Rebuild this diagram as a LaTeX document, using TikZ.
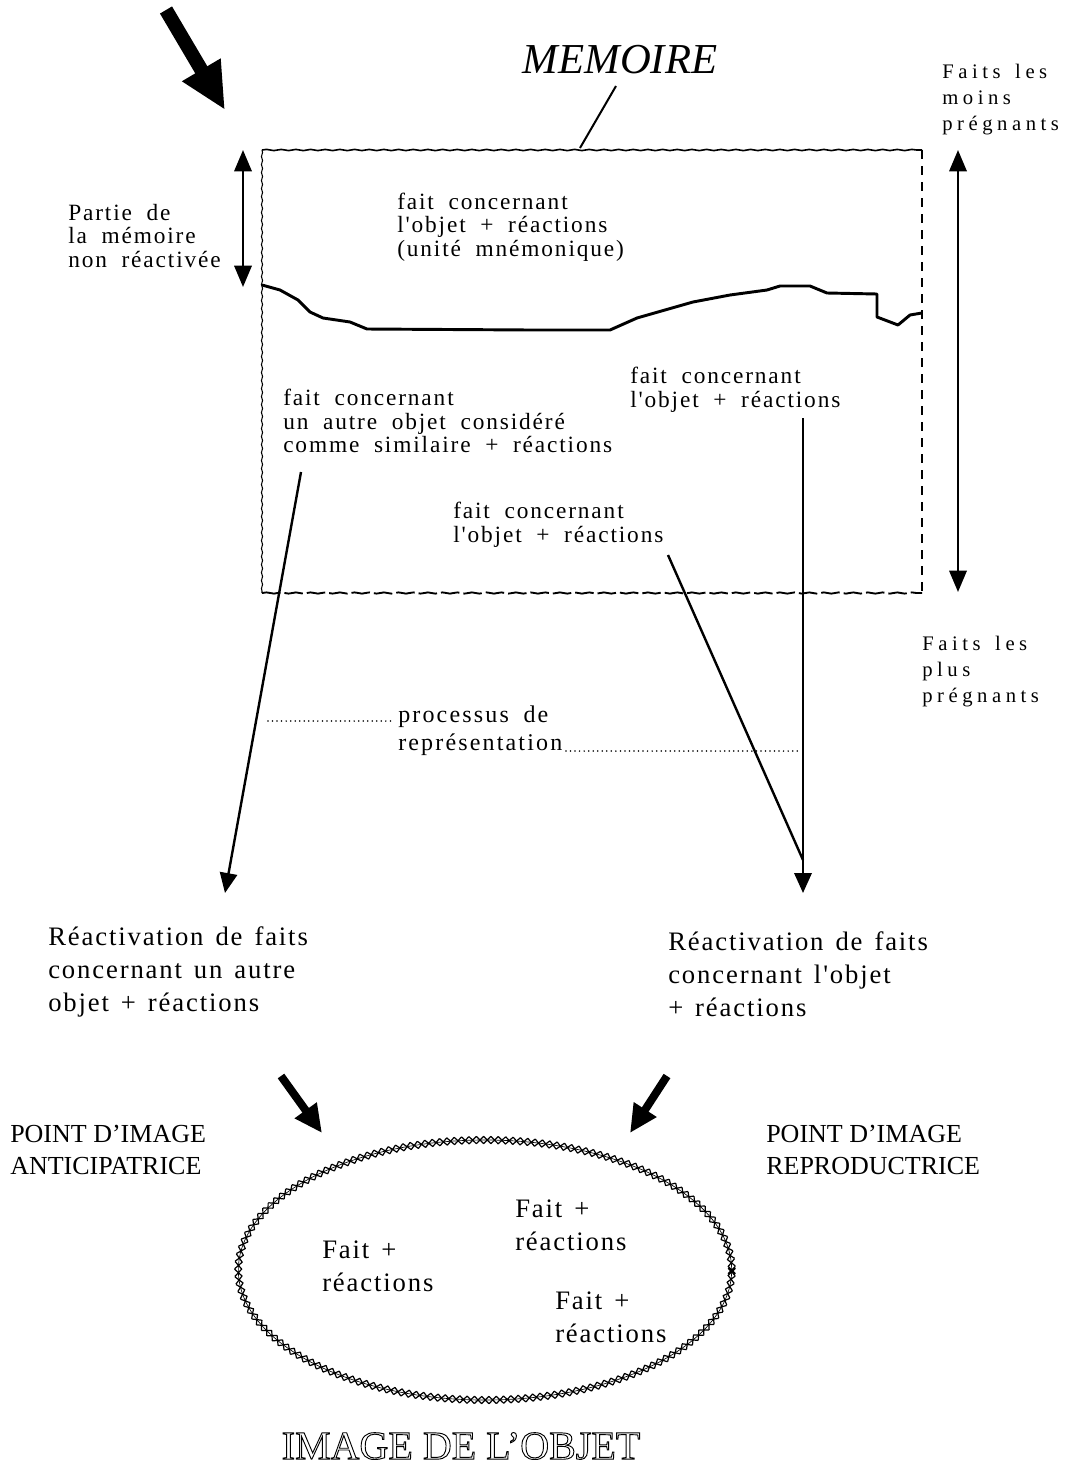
\documentclass[tikz,border=0pt]{standalone}
\usepackage{fontspec}
\setmainfont{Liberation Serif}
\newfontfamily\fsmall[LetterSpace=8,WordSpace=1.9]{Liberation Serif}
\newfontfamily\fside[LetterSpace=22,WordSpace=1.5]{Liberation Serif}
\newfontfamily\fbig[LetterSpace=7,WordSpace=1.4]{Liberation Serif}
\newfontfamily\fproc[LetterSpace=9,WordSpace=1.8]{Liberation Serif}
\usetikzlibrary{arrows.meta,decorations.pathmorphing,decorations.shapes}
\begin{document}
\begin{tikzpicture}[x=0.75pt,y=-0.75pt,
 txs/.style={font=\fsmall\fontsize{17.5}{17.8}\selectfont,align=left,inner sep=0pt,anchor=west},
 txside/.style={font=\fside\fontsize{15.5}{19.5}\selectfont,align=left,inner sep=0pt,anchor=west},
 txbig/.style={font=\fbig\fontsize{20}{24.75}\selectfont,align=left,inner sep=0pt,anchor=west},
 txproc/.style={font=\fproc\fontsize{18}{21}\selectfont,align=left,inner sep=0pt,anchor=west},
 txcaps/.style={font=\fontsize{19.5}{24}\selectfont,align=left,inner sep=0pt,anchor=west},
 conn/.style={line width=1.8pt},
 arrowend/.style={line width=1.8pt,-{Triangle[length=15pt,width=13pt]}},
 dbl/.style={line width=1.8pt,{Triangle[length=16pt,width=13pt]}-{Triangle[length=16pt,width=13pt]}},
 fat/.style={line width=6pt,-{Triangle[length=21pt,width=19pt]}},
 dotline/.style={line width=1.3pt,line cap=round,dash pattern=on 0pt off 3.4pt}]
\useasboundingbox (0,0) rectangle (1080,1471);

% ---- big arrow and title
\coordinate (bigS) at (166,10);
\coordinate (bigT) at (225,110);
\draw[line width=10.5pt,-{Triangle[length=35pt,width=31pt]}] (bigS) -- (bigT);
\node[font=\itshape\fontsize{32}{38}\selectfont,inner sep=0pt] (mem) at (620,60) {MEMOIRE};
\coordinate (memA) at (616,86);
\coordinate (memB) at (580,148);
\draw[line width=1.5pt] (memA) -- (memB);

% ---- memory box
\coordinate (bTL) at (262,150);
\coordinate (bTR) at (922,150);
\coordinate (bBR) at (922,593);
\coordinate (bBL) at (262,593);
\draw[line width=1.2pt,decorate,decoration={snake,amplitude=0.45pt,segment length=11pt}] (bTL) -- (bTR);
\draw[line width=0.8pt,decorate,decoration={snake,amplitude=0.4pt,segment length=6pt}] (bTL) -- (bBL);
\draw[line width=1.4pt,dash pattern=on 7pt off 5pt] (bTR) -- (bBR);
\draw[line width=1.4pt,dash pattern=on 14pt off 3pt,decorate,decoration={snake,amplitude=0.45pt,segment length=11pt}] (bBL) -- (bBR);

% boundary curve
\draw[line width=2.2pt,line join=round]
 (262,285) -- (280,290) -- (298,300) -- (310,312) -- (323,318) -- (350,322) -- (367,329)
 -- (530,330) -- (580,330) -- (610,330) -- (637,318) -- (693,302) -- (730,295)
 -- (767,290) -- (780,286) -- (810,286) -- (827,293) -- (877,294) -- (877,317)
 -- (898,325) -- (910,315) -- (922,313);

% side double arrows
\coordinate (lA1) at (243,150);
\coordinate (lA2) at (243,287);
\draw[dbl] (lA1) -- (lA2);
\coordinate (rA1) at (958,150);
\coordinate (rA2) at (958,592);
\draw[dbl] (rA1) -- (rA2);

% side texts
\node[txs] (partie) at (68,236) {Partie de\\la mémoire\\non réactivée};
\node[txside] (moins) at (942,100) {Faits les\\moins\\prégnants};
\node[txside] (plus) at (922,672) {Faits les\\plus\\prégnants};

% texts in box
\node[txs] (unite) at (397,227) {fait concernant\\l'objet + réactions\\(unité mnémonique)};
\node[txs] (autre) at (283,421) {fait concernant\\un autre objet considéré\\comme similaire + réactions};
\node[txs] (objR) at (630,390) {fait concernant\\l'objet + réactions};
\node[txs] (objM) at (453,525) {fait concernant\\l'objet + réactions};

% connectors
\coordinate (lnA) at (301,472);
\coordinate (lnB) at (225,893);
\draw[arrowend] (lnA) -- (lnB);
\coordinate (rvA) at (803,418);
\coordinate (rvJ) at (803,860);
\coordinate (rvB) at (803,893);
\draw[arrowend] (rvA) -- (rvB);
\coordinate (slA) at (668,555);
\draw[conn] (slA) -- (rvJ);

% processus de representation
\node[txproc] (proc) at (398,731) {processus de\\représentation};
\coordinate (d1a) at (268,721);
\coordinate (d1b) at (394,721);
\draw[dotline] (d1a) -- (d1b);
\coordinate (d2a) at (566,751);
\coordinate (d2b) at (800,751);
\draw[dotline] (d2a) -- (d2b);

% reactivation texts
\node[txbig] (reacL) at (48,972) {Réactivation de faits\\concernant un autre\\objet + réactions};
\node[txbig] (reacR) at (668,974) {Réactivation de faits\\concernant l'objet\\+ réactions};

% bottom arrows
\coordinate (baL1) at (281,1076);
\coordinate (baL2) at (322,1133);
\draw[fat] (baL1) -- (baL2);
\coordinate (baR1) at (667,1076);
\coordinate (baR2) at (630,1133);
\draw[fat] (baR1) -- (baR2);

\node[txcaps] (ptL) at (10,1150) {POINT D'IMAGE\\ANTICIPATRICE};
\node[txcaps] (ptR) at (766,1150) {POINT D'IMAGE\\REPRODUCTRICE};

% ellipse
\coordinate (ec) at (485,1270);
\draw[line width=0.5pt] (ec) ellipse [x radius=185pt,y radius=97.5pt];
\draw[line width=0.9pt,decorate,decoration={crosses,segment length=5.5pt,shape width=5.5pt,shape height=5.5pt}] (ec) ellipse [x radius=185pt,y radius=97.5pt];

\node[txbig] (f1) at (322,1266) {Fait +\\réactions};
\node[txbig] (f2) at (515,1225) {Fait +\\réactions};
\node[txbig] (f3) at (555,1317) {Fait +\\réactions};

\node[font=\fontsize{30}{36}\selectfont,inner sep=0pt] (title) at (461,1446)
 {\special{pdf:literal direct 1 Tr 0.7 w}IMAGE DE L'OBJET\special{pdf:literal direct 0 Tr}};
\end{tikzpicture}
\end{document}
